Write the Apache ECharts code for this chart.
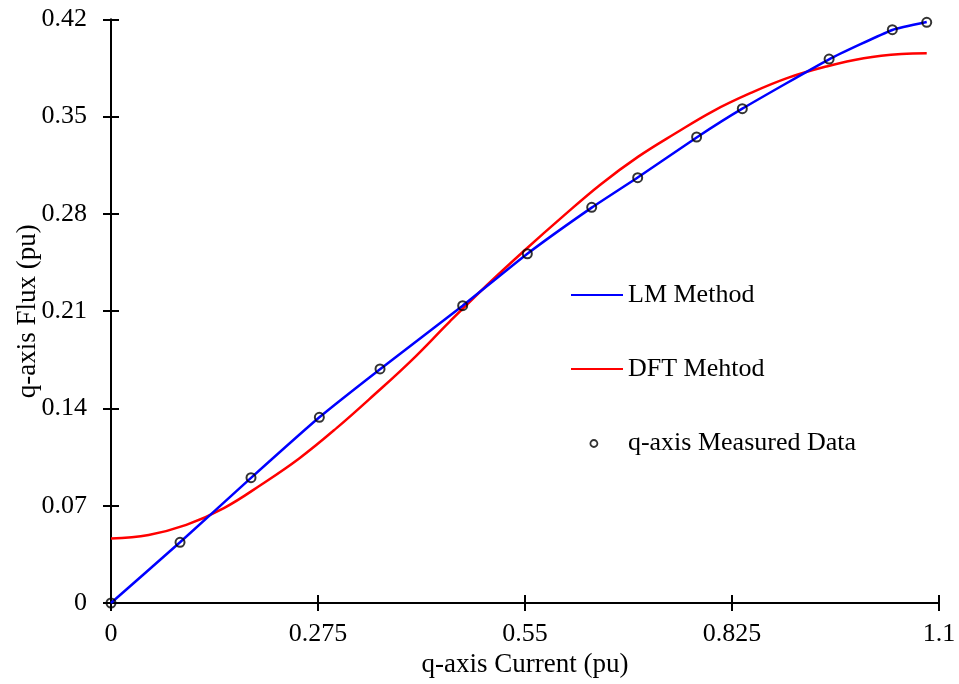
<!DOCTYPE html>
<html>
<head>
<meta charset="utf-8">
<script src="https://cdn.jsdelivr.net/npm/echarts@6/dist/echarts.min.js"></script>
<style>
html,body{margin:0;padding:0;background:#fff;}
#chart{width:959px;height:684px;}
</style>
</head>
<body>
<div id="chart"></div>
<script>
// Measured data (q-axis current, q-axis flux)
var measuredX = [0, 0.0917, 0.186, 0.2768, 0.3574, 0.4672, 0.5531, 0.6386, 0.6997, 0.778, 0.8387, 0.954, 1.038, 1.0837];
var measuredY = [0, 0.0437, 0.0902, 0.1336, 0.1684, 0.2139, 0.2513, 0.2847, 0.306, 0.3353, 0.3557, 0.3914, 0.4125, 0.4178];

// LM method curve
var lmX = [0, 0.0917, 0.186, 0.2768, 0.3574, 0.4672, 0.5531, 0.6386, 0.6997, 0.778, 0.8387, 0.954, 1.038, 1.0837];
var lmY = [0, 0.0437, 0.0900, 0.1336, 0.1682, 0.2139, 0.2513, 0.2845, 0.3062, 0.3350, 0.3557, 0.3912, 0.4123, 0.4180];

// DFT method curve
var dftX = [0, 0.05, 0.10, 0.15, 0.20, 0.25, 0.30, 0.35, 0.40, 0.45, 0.50, 0.55, 0.60, 0.65, 0.70, 0.75, 0.80, 0.85, 0.90, 0.95, 1.00, 1.05, 1.0837];
var dftY = [0.0465, 0.049, 0.0562, 0.0683, 0.0853, 0.104, 0.126, 0.150, 0.175, 0.2025, 0.229, 0.254, 0.278, 0.301, 0.321, 0.338, 0.354, 0.367, 0.378, 0.386, 0.392, 0.395, 0.3955];

// Axis ticks
var xMin = 0, xMax = 1.1, xStep = 0.275;
var yMin = 0, yMax = 0.42, yStep = 0.07;

var seriesNames = ['LM Method', 'DFT Mehtod', 'q-axis Measured Data'];
var xTitle = 'q-axis Current (pu)';
var yTitle = 'q-axis Flux (pu)';

function pairs(xs, ys) { return xs.map(function (x, i) { return [x, ys[i]]; }); }
function fmt(v) { return String(+v.toFixed(4)); }

var FONT = '"Liberation Serif", "Times New Roman", serif';
var nameTxt = { fontFamily: FONT, fontSize: 27, color: '#000' };

var chart = echarts.init(document.getElementById('chart'), null, { renderer: 'canvas' });

function xAx(main, inside) {
  return {
    type: 'value', min: xMin, max: xMax, interval: xStep, position: 'bottom',
    name: main ? xTitle : '', nameLocation: 'middle', nameGap: 48, nameMoveOverlap: false,
    nameTextStyle: nameTxt,
    axisLine: { show: main, onZero: false, lineStyle: { color: '#000', width: 2 } },
    axisTick: { show: true, inside: inside, length: 8, lineStyle: { color: '#000', width: 2 } },
    axisLabel: { show: main, margin: 18, formatter: fmt, fontFamily: FONT, fontSize: 26, color: '#000' },
    splitLine: { show: false }
  };
}
function yAx(main, inside) {
  return {
    type: 'value', min: yMin, max: yMax, interval: yStep, position: 'left',
    name: main ? yTitle : '', nameLocation: 'middle', nameGap: 70, nameMoveOverlap: false,
    nameTextStyle: nameTxt,
    axisLine: { show: main, onZero: false, lineStyle: { color: '#000', width: 2 } },
    axisTick: { show: true, inside: inside, length: 8, lineStyle: { color: '#000', width: 2 } },
    axisLabel: { show: main, margin: 24, formatter: fmt, fontFamily: FONT, fontSize: 26, color: '#000' },
    splitLine: { show: false }
  };
}

function leg(name, left, top, w, h, padL, hideSym) {
  var l = {
    data: [{ name: name }], left: left, top: top, padding: 0, orient: 'vertical',
    itemWidth: w, itemHeight: h, itemGap: 0, selectedMode: false,
    textStyle: { fontFamily: FONT, fontSize: 26, color: '#000', padding: [0, 0, 0, padL] }
  };
  if (hideSym) { l.itemStyle = { color: 'rgba(0,0,0,0)', borderColor: 'rgba(0,0,0,0)', borderWidth: 0 }; }
  else { l.data[0].icon = 'circle'; l.itemStyle = { color: 'rgba(255,255,255,0)', borderColor: '#000', borderWidth: 1.8 }; }
  return l;
}

chart.setOption({
  backgroundColor: '#fff',
  animation: false,
  grid: { left: 111, right: 20, top: 19.3, bottom: 81, containLabel: false, outerBoundsMode: 'none' },
  xAxis: [xAx(true, false), xAx(false, true)],
  yAxis: [yAx(true, false), yAx(false, true)],
  legend: [
    leg(seriesNames[0], 570, 282, 52, 7, 0, true),
    leg(seriesNames[1], 570, 356, 52, 7, 0, true),
    leg(seriesNames[2], 589.5, 430.5, 7, 7, 25.5, false)
  ],
  series: [
    {
      name: seriesNames[1], type: 'line', data: pairs(dftX, dftY), smooth: 0.4,
      symbol: 'none', lineStyle: { color: '#ff0000', width: 2.5 }, itemStyle: { color: '#ff0000' }, z: 2
    },
    {
      name: seriesNames[0], type: 'line', data: pairs(lmX, lmY), smooth: 0.15,
      symbol: 'none', lineStyle: { color: '#0000ff', width: 2.5 }, itemStyle: { color: '#0000ff' }, z: 3
    },
    {
      name: seriesNames[2], type: 'scatter', data: pairs(measuredX, measuredY),
      symbol: 'circle', symbolSize: 9,
      itemStyle: { color: 'rgba(255,255,255,0)', borderColor: '#000', borderWidth: 2 }, z: 4
    }
  ]
});
</script>
</body>
</html>
